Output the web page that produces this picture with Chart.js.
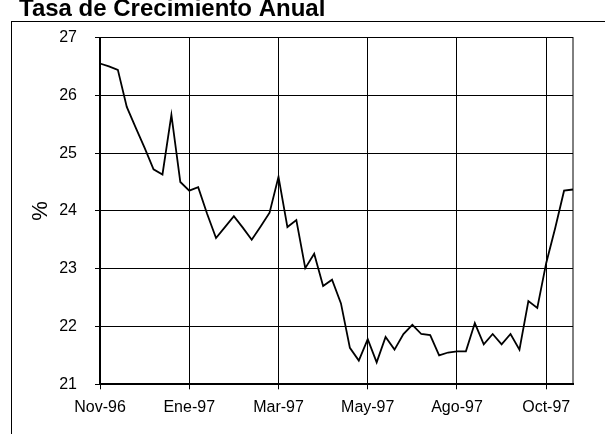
<!DOCTYPE html>
<html>
<head>
<meta charset="utf-8">
<script src="https://cdn.jsdelivr.net/npm/chart.js@4.4.1/dist/chart.umd.min.js"></script>
<style>
  html, body { margin: 0; padding: 0; background: #fff; overflow: hidden; }
</style>
</head>
<body>
<canvas id="chart" width="605" height="434"></canvas>
<script>
// Chart data
const chartTitle = 'Tasa de Crecimiento Anual';
const yTitle = '%';
const tickLabels = ['Nov-96', 'Ene-97', 'Mar-97', 'May-97', 'Ago-97', 'Oct-97'];
const yTicks = [21, 22, 23, 24, 25, 26, 27];
const tasa = [
  26.55, 26.50, 26.44, 25.80, 25.44, 25.09, 24.72, 24.63, 25.66, 24.50,
  24.35, 24.41, 23.95, 23.53, 23.72, 23.91, 23.71, 23.50, 23.73, 23.97,
  24.59, 23.72, 23.84, 23.01, 23.26, 22.70, 22.81, 22.40, 21.63, 21.41,
  21.78, 21.38, 21.82, 21.60, 21.87, 22.03, 21.87, 21.85, 21.50, 21.55,
  21.57, 21.57, 22.06, 21.69, 21.87, 21.69, 21.87, 21.60, 22.44, 22.32,
  23.10, 23.70, 24.35, 24.37
];

// one category per week, a label every 10 weeks
const labels = tasa.map((v, i) => (i % 10 === 0 ? tickLabels[i / 10] : ''));

const FONT = "'Liberation Sans', Arial, sans-serif";
Chart.defaults.font.family = FONT;
Chart.defaults.color = '#000';

// white page, outer frame and the (cut off) title
const framePlugin = {
  id: 'frame',
  beforeDraw(chart) {
    const ctx = chart.ctx;
    ctx.save();
    ctx.fillStyle = '#fff';
    ctx.fillRect(0, 0, chart.width, chart.height);
    ctx.strokeStyle = '#000';
    ctx.lineWidth = 1;
    ctx.strokeRect(11.5, 21.5, 700, 700);
    ctx.fillStyle = '#000';
    ctx.font = 'bold 24px ' + FONT;
    ctx.textBaseline = 'alphabetic';
    ctx.fillText(chartTitle, 19, 16);
    ctx.restore();
  },
  afterDatasetsDraw(chart) {
    const { ctx, chartArea: a } = chart;
    ctx.save();
    ctx.strokeStyle = '#000';
    ctx.lineWidth = 1;
    ctx.strokeRect(a.left, a.top, a.right - a.left, a.bottom - a.top);
    ctx.restore();
  }
};

new Chart(document.getElementById('chart'), {
  type: 'line',
  data: {
    labels,
    datasets: [{
      data: tasa,
      borderColor: '#000',
      borderWidth: 1.8,
      pointRadius: 0,
      tension: 0,
      fill: false
    }]
  },
  options: {
    responsive: false,
    animation: false,
    devicePixelRatio: 1,
    layout: { padding: { left: 24, right: 32, top: 37.5, bottom: 7.5 } },
    plugins: { legend: { display: false }, tooltip: { enabled: false }, title: { display: false } },
    scales: {
      x: {
        type: 'category',
        offset: false,
        grid: {
          color: (c) => (c.index % 10 === 0 ? '#000' : 'rgba(0,0,0,0)'),
          lineWidth: 1,
          tickLength: 5
        },
        border: { color: '#000', width: 2 },
        ticks: {
          autoSkip: false,
          maxRotation: 0,
          padding: 9,
          font: { size: 16 },
          color: '#000'
        }
      },
      y: {
        min: yTicks[0],
        max: yTicks[yTicks.length - 1],
        afterFit(s) { s.width = 76; },
        afterBuildTicks(s) { s.ticks = yTicks.map(v => ({ value: v })); },
        grid: { color: '#000', lineWidth: 1, tickLength: 5 },
        border: { color: '#000', width: 1.5 },
        ticks: { padding: 18, font: { size: 16 }, color: '#000' },
        title: { display: true, text: yTitle, font: { size: 22 }, padding: { top: 4, bottom: 4 }, color: '#000' }
      }
    }
  },
  plugins: [framePlugin]
});
</script>
</body>
</html>
